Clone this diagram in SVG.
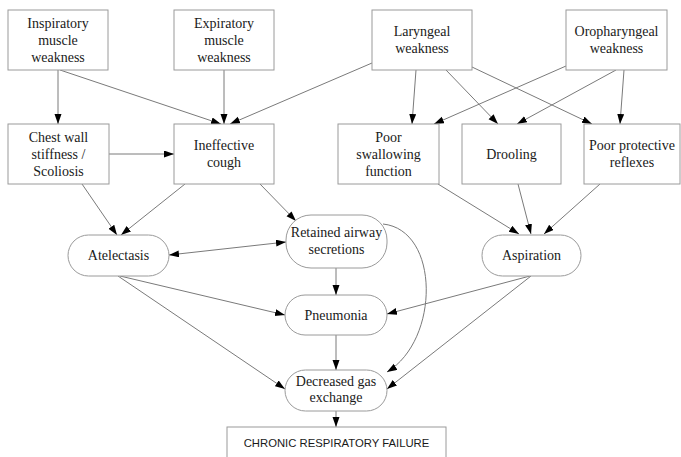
<svg xmlns="http://www.w3.org/2000/svg" width="681" height="457" viewBox="0 0 681 457">
<defs>
<marker id="ah" markerUnits="userSpaceOnUse" markerWidth="11" markerHeight="8" refX="10" refY="3.5" orient="auto-start-reverse">
<path d="M0,0 L10,3.5 L0,7 z" fill="#000"/>
</marker>
<style>
.box{fill:#fff;stroke:#9a9a9a;stroke-width:1}
.t{font-family:"Liberation Serif","Times New Roman",serif;font-size:14px;fill:#1a1a1a;text-anchor:middle}
.s{font-family:"Liberation Sans",Arial,sans-serif;font-size:11.3px;fill:#1a1a1a;text-anchor:middle}
.e{fill:none;stroke:#7a7a7a;stroke-width:1;marker-end:url(#ah)}
</style>
</defs>
<rect width="681" height="457" fill="#fff"/>
<g id="connectors">
<path class="e" d="M58,70 L58,124"/>
<path class="e" d="M60,70 L221,124"/>
<path class="e" d="M224,70 L224,124"/>
<path class="e" d="M372,63 L230,124"/>
<path class="e" d="M416,70 L412,124"/>
<path class="e" d="M446,70 L498,124"/>
<path class="e" d="M472,67 L592,124"/>
<path class="e" d="M566,66 L434,124"/>
<path class="e" d="M616,70 L517,124"/>
<path class="e" d="M624,70 L620,124"/>
<path class="e" d="M109,154 L174,154"/>
<path class="e" d="M82,184 L117,235"/>
<path class="e" d="M185,184 L121,235"/>
<path class="e" d="M260,184 L296,221"/>
<path class="e" style="marker-start:url(#ah)" d="M169,255 L286,242"/>
<path class="e" d="M336,268 L336,295"/>
<path class="e" d="M383,224 C440,230 440,340 387,372"/>
<path class="e" d="M336,335 L336,370"/>
<path class="e" d="M120,276 L285,315"/>
<path class="e" d="M118,276 L285,389"/>
<path class="e" d="M530,276 L387,314"/>
<path class="e" d="M531,276 L387,389"/>
<path class="e" d="M438,184 L519,234"/>
<path class="e" d="M518,184 L531,234"/>
<path class="e" d="M600,184 L544,234"/>
<path class="e" d="M336,411 L336,427"/>
</g>
<g id="inspiratory"><rect class="box" x="8" y="10" width="100" height="60"/><text class="t" x="58" y="28">Inspiratory</text><text class="t" x="58" y="45">muscle</text><text class="t" x="58" y="62">weakness</text></g>
<g id="expiratory"><rect class="box" x="174" y="10" width="100" height="60"/><text class="t" x="224" y="28">Expiratory</text><text class="t" x="224" y="45">muscle</text><text class="t" x="224" y="62">weakness</text></g>
<g id="laryngeal"><rect class="box" x="372" y="10" width="100" height="60"/><text class="t" x="422" y="36">Laryngeal</text><text class="t" x="422" y="53">weakness</text></g>
<g id="oropharyngeal"><rect class="box" x="566" y="10" width="101" height="60"/><text class="t" x="616.5" y="36">Oropharyngeal</text><text class="t" x="616.5" y="53">weakness</text></g>
<g id="chestwall"><rect class="box" x="8" y="124" width="101" height="60"/><text class="t" x="58.5" y="142">Chest wall</text><text class="t" x="58.5" y="159">stiffness /</text><text class="t" x="58.5" y="176">Scoliosis</text></g>
<g id="cough"><rect class="box" x="174" y="124" width="100" height="60"/><text class="t" x="224" y="150">Ineffective</text><text class="t" x="224" y="167">cough</text></g>
<g id="swallowing"><rect class="box" x="338" y="124" width="101" height="60"/><text class="t" x="388.5" y="142">Poor</text><text class="t" x="388.5" y="159">swallowing</text><text class="t" x="388.5" y="176">function</text></g>
<g id="drooling"><rect class="box" x="462" y="124" width="99" height="60"/><text class="t" x="511.5" y="159">Drooling</text></g>
<g id="protective"><rect class="box" x="584" y="124" width="96" height="60"/><text class="t" x="632" y="150">Poor protective</text><text class="t" x="632" y="167">reflexes</text></g>
<g id="atelectasis"><rect class="box" x="68" y="235" width="101" height="41" rx="20.5"/><text class="t" x="118.5" y="260">Atelectasis</text></g>
<g id="retained"><rect class="box" x="286" y="215" width="101" height="53" rx="25"/><text class="t" x="336.5" y="237">Retained airway</text><text class="t" x="336.5" y="254">secretions</text></g>
<g id="aspiration"><rect class="box" x="482" y="235" width="99" height="41" rx="20.5"/><text class="t" x="531.5" y="260">Aspiration</text></g>
<g id="pneumonia"><rect class="box" x="285" y="295" width="102" height="40" rx="20"/><text class="t" x="336" y="320">Pneumonia</text></g>
<g id="gasexchange"><rect class="box" x="285" y="370" width="102" height="41" rx="20.5"/><text class="t" x="336" y="386">Decreased gas</text><text class="t" x="336" y="402">exchange</text></g>
<g id="failure"><rect class="box" x="227" y="427" width="219" height="40"/><text class="s" x="336.5" y="447">CHRONIC RESPIRATORY FAILURE</text></g>
</svg>
